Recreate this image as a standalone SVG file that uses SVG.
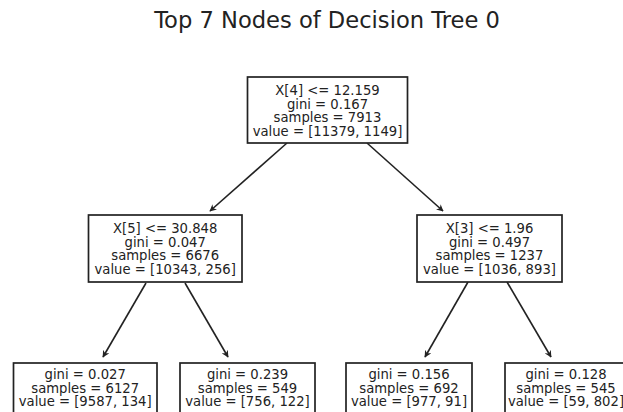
<svg xmlns="http://www.w3.org/2000/svg" width="623" height="412" viewBox="0 0 623 412">
<style>
.box{fill:#fff;stroke:#222;stroke-width:1.7}
.t{font-family:"DejaVu Sans",sans-serif;font-size:13.2px;fill:#222;text-anchor:middle}
.title{font-family:"DejaVu Sans",sans-serif;font-size:22.6px;fill:#222;text-anchor:middle}
.edge{stroke:#222;stroke-width:1.6;fill:none;marker-end:url(#ah)}
</style>
<defs>
<marker id="ah" viewBox="0 0 10 10" refX="9" refY="5" markerWidth="7" markerHeight="7" markerUnits="userSpaceOnUse" orient="auto">
<path d="M0,0 L10,5 L0,10 L3,5 z" fill="#222"/>
</marker>
</defs>
<rect width="623" height="412" fill="#fff"/>
<text class="title" x="327" y="28">Top 7 Nodes of Decision Tree 0</text>
<g id="connectors">
<line class="edge" x1="287" y1="143" x2="210" y2="211"/>
<line class="edge" x1="367" y1="143" x2="443" y2="211"/>
<line class="edge" x1="146" y1="283" x2="103" y2="357"/>
<line class="edge" x1="185" y1="283" x2="228" y2="357"/>
<line class="edge" x1="468" y1="282" x2="425" y2="357"/>
<line class="edge" x1="507" y1="282" x2="551" y2="357"/>
</g>
<g id="node0">
<rect class="box" x="247.5" y="77" width="160" height="66"/>
<text class="t" x="327.5" y="95">X[4] &lt;= 12.159</text>
<text class="t" x="327.5" y="108.7">gini = 0.167</text>
<text class="t" x="327.5" y="122.4">samples = 7913</text>
<text class="t" x="327.5" y="136.1">value = [11379, 1149]</text>
</g>
<g id="node1">
<rect class="box" x="88.5" y="215" width="153.5" height="67"/>
<text class="t" x="165.2" y="233">X[5] &lt;= 30.848</text>
<text class="t" x="165.2" y="246.7">gini = 0.047</text>
<text class="t" x="165.2" y="260.4">samples = 6676</text>
<text class="t" x="165.2" y="274.1">value = [10343, 256]</text>
</g>
<g id="node2">
<rect class="box" x="417" y="215" width="145" height="67"/>
<text class="t" x="489.5" y="233">X[3] &lt;= 1.96</text>
<text class="t" x="489.5" y="246.7">gini = 0.497</text>
<text class="t" x="489.5" y="260.4">samples = 1237</text>
<text class="t" x="489.5" y="274.1">value = [1036, 893]</text>
</g>
<g id="node3">
<rect class="box" x="13.5" y="363" width="143.5" height="52"/>
<text class="t" x="85.2" y="379">gini = 0.027</text>
<text class="t" x="85.2" y="392.7">samples = 6127</text>
<text class="t" x="85.2" y="406.4">value = [9587, 134]</text>
</g>
<g id="node4">
<rect class="box" x="180" y="363" width="135" height="52"/>
<text class="t" x="247.5" y="379">gini = 0.239</text>
<text class="t" x="247.5" y="392.7">samples = 549</text>
<text class="t" x="247.5" y="406.4">value = [756, 122]</text>
</g>
<g id="node5">
<rect class="box" x="346" y="363" width="126" height="52"/>
<text class="t" x="409" y="379">gini = 0.156</text>
<text class="t" x="409" y="392.7">samples = 692</text>
<text class="t" x="409" y="406.4">value = [977, 91]</text>
</g>
<g id="node6">
<rect class="box" x="505" y="363" width="124" height="52"/>
<text class="t" x="566" y="379">gini = 0.128</text>
<text class="t" x="566" y="392.7">samples = 545</text>
<text class="t" x="566" y="406.4">value = [59, 802]</text>
</g>
</svg>
